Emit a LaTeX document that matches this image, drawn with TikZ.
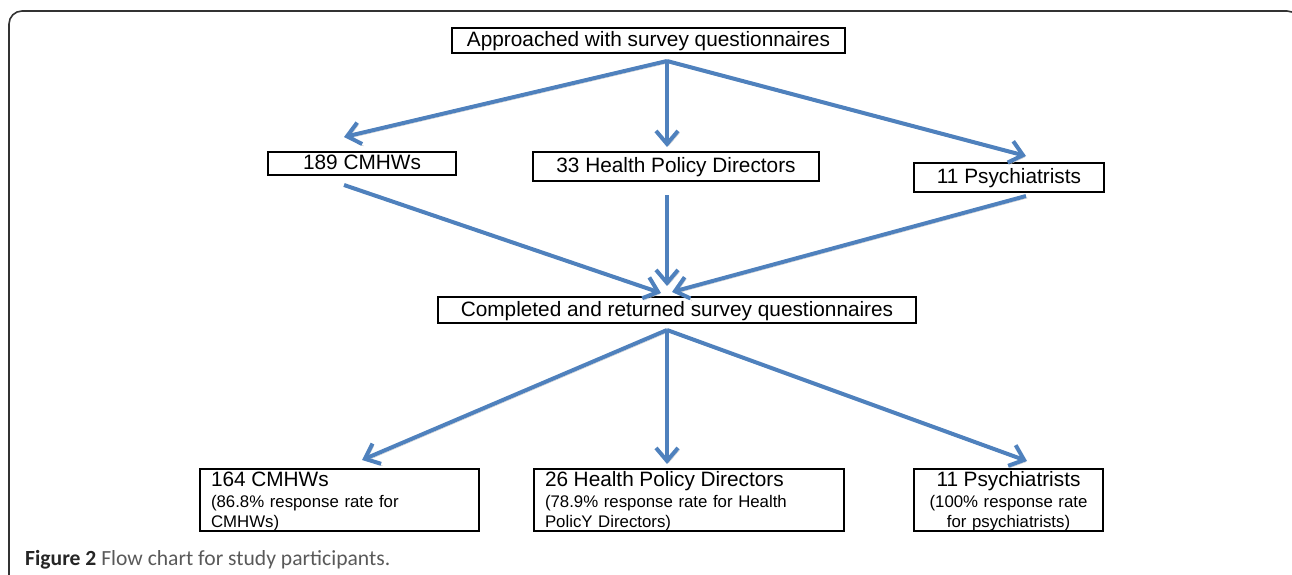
\documentclass[tikz,border=0pt]{standalone}
\usepackage{fontspec}
\setmainfont{Liberation Sans}
\newfontfamily\capfont{Carlito}
\usetikzlibrary{arrows.meta}
\definecolor{arrblue}{HTML}{4F81BD}
\definecolor{framegray}{HTML}{333333}
\begin{document}
\begin{tikzpicture}[x=1pt,y=-1pt,
  box/.style={draw=black, line width=2.6pt, inner sep=0pt, font=\fontsize{20.8}{24}\selectfont},
  onebox/.style={box, text height=15pt, text depth=3pt},
  twoline/.style={box, font=\fontsize{16.8}{19.5}\selectfont},
  arr/.style={line width=4pt, draw=arrblue, -{Straight Barb[length=13pt,width=22pt]},
    preaction={draw=black!22, transform canvas={shift={(1.5pt,-2pt)}}}},
]
\path[use as bounding box] (0,0) rectangle (1292,574);
\begin{scope}
  \clip (0,0) rectangle (1292,574);
  \draw[framegray, line width=1.6pt, rounded corners=13pt] (9,600) -- (9,11) -- (1300,11) -- (1300,600);
\end{scope}

% boxes
\node[onebox, minimum width=393, minimum height=25] (top) at (648.5,40.5) {Approached with survey questionnaires};
\node[onebox, minimum width=188, minimum height=23] (c189) at (362,163.5) {189 CMHWs};
\node[onebox, minimum width=286, minimum height=29] (h33) at (676,166.5) {33 Health Policy Directors};
\node[onebox, minimum width=190, minimum height=29] (p11) at (1009,177.5) {11 Psychiatrists};
\node[onebox, minimum width=478, minimum height=26] (comp) at (677,310) {Completed and returned survey questionnaires};

\node[twoline, minimum width=279, minimum height=62, text width=257, align=left] (c164) at (339.5,500)
  {{\fontsize{20.8}{24}\selectfont\rule{0pt}{17pt}164 CMHWs}\\[2pt](86.8\% response rate for\\CMHWs)};
\node[twoline, minimum width=310, minimum height=62, text width=288, align=left] (h26) at (689,500)
  {{\fontsize{20.8}{24}\selectfont\rule{0pt}{17pt}26 Health Policy Directors}\\[2pt](78.9\% response rate for Health\\PolicY Directors)};
\node[twoline, minimum width=189, minimum height=62, text width=189, align=center] (p11b) at (1008.5,500)
  {{\fontsize{20.8}{24}\selectfont\rule{0pt}{17pt}11 Psychiatrists}\\[2pt](100\% response rate\\for psychiatrists)};

% caption
\node[anchor=base west, inner sep=0pt] (cap) at (25,565)
  {\capfont\fontsize{21.6}{22}\selectfont\color{black!85}\bfseries Figure 2 \mdseries\color{black!65}Flow chart for study participants.};

% connector end points
\coordinate (t0) at (667,61);
\coordinate (tl) at (344,137);
\coordinate (tm) at (667,147);
\coordinate (tr) at (1026,156);
\coordinate (ml0) at (344,185);
\coordinate (mm0) at (667,195);
\coordinate (mr0) at (1026,196);
\coordinate (ml1) at (661,293);
\coordinate (mm1) at (667,286);
\coordinate (mr1) at (672,292);
\coordinate (b0) at (667,330);
\coordinate (bl) at (362,460);
\coordinate (bm) at (667,464);
\coordinate (br) at (1027,461);

\draw[arr] (t0) -- (tl);
\draw[arr] (t0) -- (tm);
\draw[arr] (t0) -- (tr);
\draw[arr] (ml0) -- (ml1);
\draw[arr] (mm0) -- (mm1);
\draw[arr] (mr0) -- (mr1);
\draw[arr] (b0) -- (bl);
\draw[arr] (b0) -- (bm);
\draw[arr] (b0) -- (br);
\end{tikzpicture}
\end{document}
